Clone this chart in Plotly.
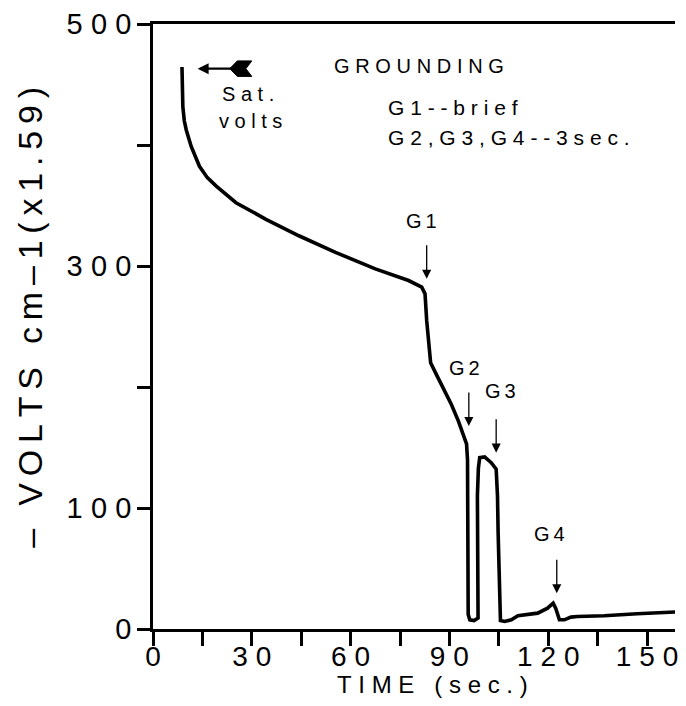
import plotly.graph_objects as go

# ---- data ----
time_s = [8.8, 8.9, 9.06, 9.5, 10.1, 11.6, 14.1, 16.5, 19.2, 25.2, 34.3, 44.3, 55.4, 67.5,
          77.6, 81.6, 82.6, 83.1, 83.8, 84.3, 86.1, 88.1, 90.6, 92.7, 94.7, 95.2, 95.5, 95.6,
          95.7, 96.2, 97.5, 98.7, 98.6, 98.5, 98.8, 99.2, 100.7, 102.7, 104.2, 104.6, 104.8,
          105.2, 105.5, 106.8, 108.8, 110.8, 113.5, 116.8, 119.8, 121.5, 122.3, 123.0, 123.4,
          124.9, 126.9, 128.9, 137.0, 147.0, 161.0]
volts = [464.5, 450, 431.6, 420, 412.4, 398.8, 382.4, 373, 366.0, 352.3, 338.6, 325.0, 311.3,
         297.6, 288.0, 282.5, 277, 255, 232, 220, 210, 199, 185.5, 172, 158, 153, 140, 60,
         12, 7.6, 7, 9.0, 40, 110, 133, 141.6, 142.2, 137.5, 132.1, 110, 78.8,
         12, 7, 6.2, 7.6, 10.9, 12, 13.1, 17.2, 21.3, 17, 9, 7.6,
         7.6, 9.8, 10.3, 10.9, 12.6, 14.4]

x_ticks = [0, 15, 30, 45, 60, 75, 90, 105, 120, 135, 150]
x_tick_labels = ["0", "", "30", "", "60", "", "90", "", "120", "", "150"]
y_ticks = [0, 100, 200, 300, 400, 500]
y_tick_labels = ["0", "100", "", "300", "", "500"]

# grounding events: label, time, volts at arrow head, label position
event_labels = ["G1", "G2", "G3", "G4"]
event_time = [83.1, 95.9, 104.2, 122.6]
event_label_time = [81.6, 94.7, 105.4, 120.4]
event_head_volts = [289.4, 167.7, 145.7, 29.5]
event_label_volts = [337.5, 215.5, 196.4, 78.8]

THIN = "\u2009"
HAIR = "\u200a"
NB = "\u00a0"


def spaced(s, sep):
    return sep.join(list(s))


FONT = "Liberation Sans, Arial, Helvetica, sans-serif"

fig = go.Figure()
fig.add_trace(go.Scatter(x=time_s, y=volts, mode="lines",
                         line=dict(color="black", width=3.6), showlegend=False,
                         hoverinfo="skip"))

annotations = []
for lab, xt, xl, yh, yl in zip(event_labels, event_time, event_label_time,
                               event_head_volts, event_label_volts):
    annotations.append(dict(x=xt, y=yh, xref="x", yref="y", text="", showarrow=True,
                            arrowhead=2, arrowsize=1.4, arrowwidth=1.3, arrowcolor="black",
                            ax=0, ay=-35, axref="pixel", ayref="pixel"))
    annotations.append(dict(x=xl, y=yl, xref="x", yref="y", text=spaced(lab, THIN),
                            showarrow=False, font=dict(family=FONT, size=20, color="black"),
                            xanchor="center", yanchor="middle"))

# Sat. volts arrow
annotations.append(dict(x=13.55, y=463.1, xref="x", yref="y", text="", showarrow=True,
                        arrowhead=2, arrowsize=1.0, arrowwidth=2.2, arrowcolor="black",
                        ax=44, ay=0, axref="pixel", ayref="pixel"))
annotations.append(dict(x=20.2, y=442.1, xref="x", yref="y", text=spaced("Sat.", NB),
                        showarrow=False, font=dict(family=FONT, size=20, color="black"),
                        xanchor="left", yanchor="middle"))
annotations.append(dict(x=19.5, y=420.0, xref="x", yref="y", text=spaced("volts", NB),
                        showarrow=False, font=dict(family=FONT, size=20, color="black"),
                        xanchor="left", yanchor="middle"))

annotations.append(dict(x=54.3, y=465.1, xref="x", yref="y",
                        text=spaced("GROUNDING", THIN + HAIR),
                        showarrow=False, font=dict(family=FONT, size=20, color="black"),
                        xanchor="left", yanchor="middle"))
annotations.append(dict(x=70.6, y=430.7, xref="x", yref="y", text=spaced("G1--brief", NB),
                        showarrow=False, font=dict(family=FONT, size=21, color="black"),
                        xanchor="left", yanchor="middle"))
annotations.append(dict(x=70.6, y=406.0, xref="x", yref="y", text=spaced("G2,G3,G4--3sec.", NB),
                        showarrow=False, font=dict(family=FONT, size=21, color="black"),
                        xanchor="left", yanchor="middle"))

# axis titles
annotations.append(dict(x=0.535, y=-0.0915, xref="paper", yref="paper",
                        text=spaced("TIME (sec.)", NB), showarrow=False,
                        font=dict(family=FONT, size=24, color="black"),
                        xanchor="center", yanchor="middle"))
annotations.append(dict(x=-0.235, y=0.515, xref="paper", yref="paper",
                        text=spaced("– VOLTS cm–1(x1.59)", THIN), showarrow=False,
                        textangle=-90,
                        font=dict(family=FONT, size=34, color="black"),
                        xanchor="center", yanchor="middle"))

# feathered tail of the Sat. arrow
fig.add_shape(type="path", xref="x", yref="y",
              path="M 23.3 463.1 L 25.6 469.5 L 30.0 469.5 L 28.2 463.1 L 30.0 456.7 L 25.6 456.7 Z",
              fillcolor="black", line=dict(color="black", width=1))

# page body has an 8px margin; the figure is sized so the page does not overflow
fig.update_layout(
    width=670, height=690,
    margin=dict(l=145.3, r=0, t=12, b=68.7),
    paper_bgcolor="white", plot_bgcolor="white",
    annotations=annotations,
    xaxis=dict(range=[0, 158.5], tickvals=x_ticks,
               ticktext=[spaced(t, THIN + HAIR) for t in x_tick_labels],
               ticks="outside", ticklen=14, tickwidth=2.5, tickcolor="black",
               showline=True, linewidth=2.5, linecolor="black", mirror=True,
               showgrid=False, zeroline=False, ticklabelstandoff=-13,
               ticklabeloverflow="allow",
               tickfont=dict(family=FONT, size=28, color="black")),
    yaxis=dict(range=[0, 500], tickvals=y_ticks,
               ticktext=[spaced(t, THIN + HAIR) for t in y_tick_labels],
               ticks="outside", ticklen=13, tickwidth=2.5, tickcolor="black",
               showline=True, linewidth=2.5, linecolor="black",
               showgrid=False, zeroline=False, ticklabelstandoff=0,
               ticklabeloverflow="allow",
               tickfont=dict(family=FONT, size=29, color="black")),
)

fig.write_html("out.html")
